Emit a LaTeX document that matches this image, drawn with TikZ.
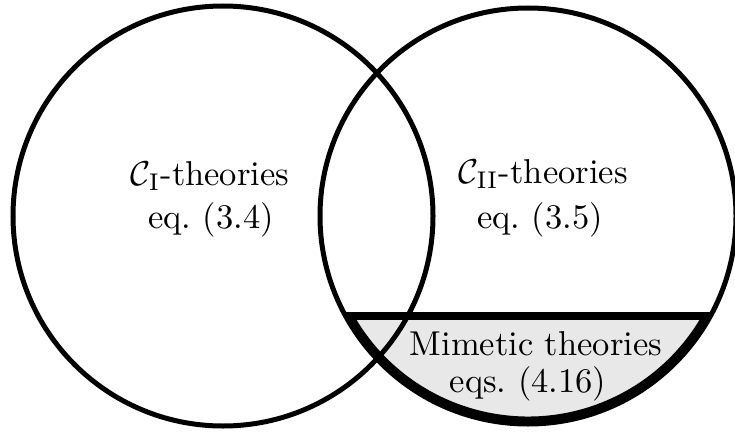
\documentclass[tikz,border=0pt]{standalone}
\definecolor{segfill}{RGB}{232,232,232}
\begin{document}
\begin{tikzpicture}[x=1pt,y=1pt,
  circ/.style={draw=black,line width=5pt},
  lbl/.style={anchor=base,inner sep=0pt,font=\fontsize{10}{12}\selectfont,scale=3.45,transform shape}]
\useasboundingbox (0,0) rectangle (735,432);
% mimetic segment
\begin{scope}
  \clip (528,216) circle (208);
  \fill[segfill] (300,0) rectangle (740,116);
  \draw[line width=15pt] (528,216) ++(208.9:208) arc[start angle=208.9,end angle=331.1,radius=208];
  \coordinate (chl) at (330,116);
  \coordinate (chr) at (740,116);
  \draw[line width=8pt] (chl) -- (chr);
\end{scope}
% circles
\node[circ,circle,minimum size=420pt,inner sep=0pt] (cI) at (223,216) {};
\node[circ,circle,minimum size=416pt,inner sep=0pt] (cII) at (528,216) {};
% labels
\node[lbl] (l1a) at (210,247) {$\mathcal{C}_{\mathrm{I}}$-theories};
\node[lbl] (l1b) at (211,204) {eq.\ (3.4)};
\node[lbl] (l2a) at (543,249) {$\mathcal{C}_{\mathrm{II}}$-theories};
\node[lbl] (l2b) at (540,204) {eq.\ (3.5)};
\node[lbl] (l3a) at (536,77) {Mimetic theories};
\node[lbl] (l3b) at (528,40) {eqs.\ (4.16)};
\end{tikzpicture}
\end{document}
